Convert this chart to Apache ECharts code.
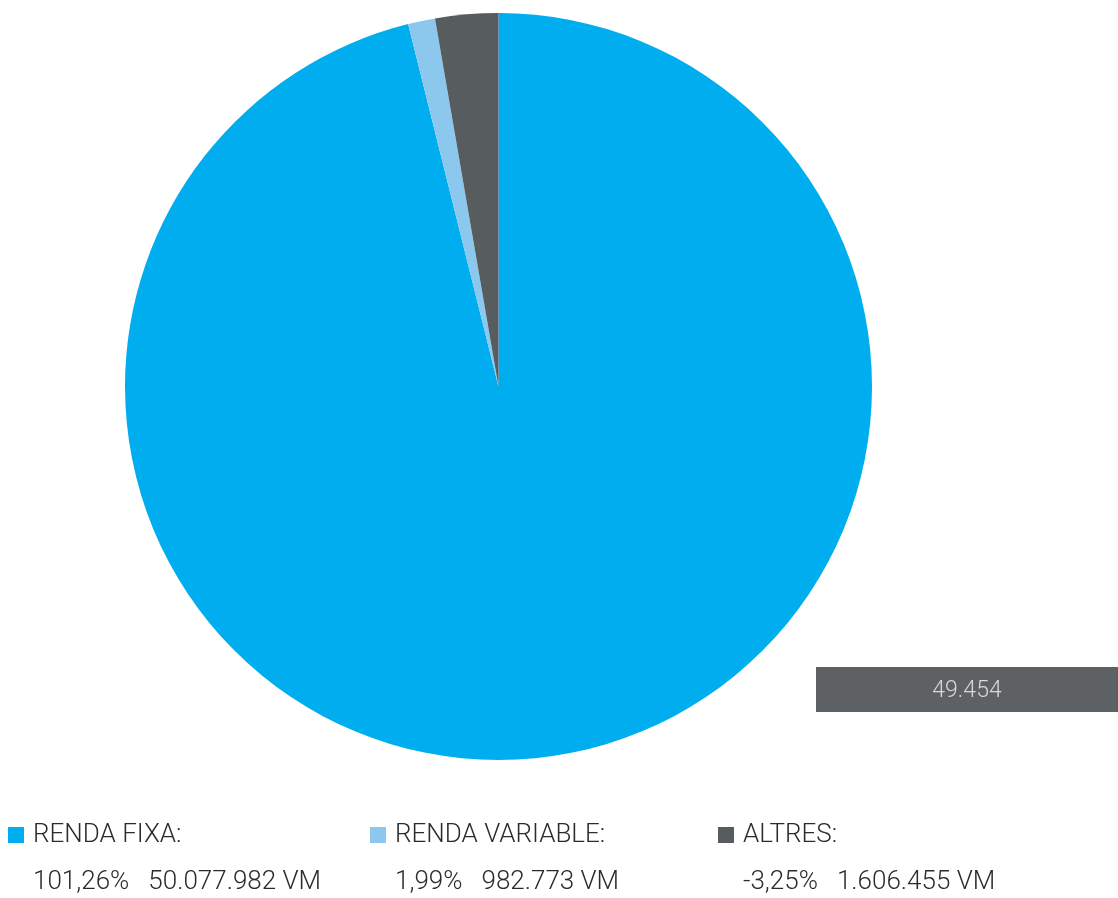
<!DOCTYPE html>
<html><head><meta charset="utf-8">
<script src="https://cdn.jsdelivr.net/npm/echarts@6/dist/echarts.min.js"></script>
<style>html,body{margin:0;padding:0;background:#fff}#c{width:1118px;height:898px}</style>
</head><body><div id="c"></div>
<script>
// Categories and legend text
const categories = ['RENDA FIXA:', 'RENDA VARIABLE:', 'ALTRES:'];
const legendPercents = ['101,26%', '1,99%', '-3,25%'];
const legendValues = ['50.077.982 VM', '982.773 VM', '1.606.455 VM'];
// Slice sizes (share of the circle, %)
const sliceValues = [96.1, 1.17, 2.72];
const totalLabel = '49.454';
const colors = ['#00AEEF', '#8CC8EE', '#575C5F'];

const chart = echarts.init(document.getElementById('c'), null, {renderer: 'canvas'});
const font = 'Roboto, "Open Sans", sans-serif';
const colX = [8, 370, 718];
const graphics = [];
categories.forEach((name, i) => {
  graphics.push({type: 'rect', left: colX[i], top: 827, shape: {width: 16, height: 16}, style: {fill: colors[i]}, silent: true});
  graphics.push({type: 'text', left: colX[i] + 25, top: 822, style: {text: name, fill: '#2b2b2b', font: '300 26px ' + font}, silent: true});
  graphics.push({type: 'text', left: colX[i] + 25, top: 869, style: {text: legendPercents[i] + '   ' + legendValues[i], fill: '#2b2b2b', font: '300 26px ' + font}, silent: true});
});
graphics.push({type: 'rect', left: 816, top: 667, shape: {width: 302, height: 45}, style: {fill: '#5E6163'}, silent: true});
graphics.push({type: 'text', x: 967, y: 691, style: {text: totalLabel, fill: '#D8D8D8', font: '300 23px ' + font, align: 'center', verticalAlign: 'middle'}, silent: true});

chart.setOption({
  animation: false,
  color: colors,
  series: [{
    type: 'pie',
    center: [498.5, 386.5],
    radius: [0, 373.5],
    startAngle: 90,
    clockwise: true,
    label: {show: false},
    labelLine: {show: false},
    itemStyle: {borderWidth: 0},
    data: categories.map((n, i) => ({name: n, value: sliceValues[i]}))
  }],
  graphic: graphics
});
</script></body></html>
